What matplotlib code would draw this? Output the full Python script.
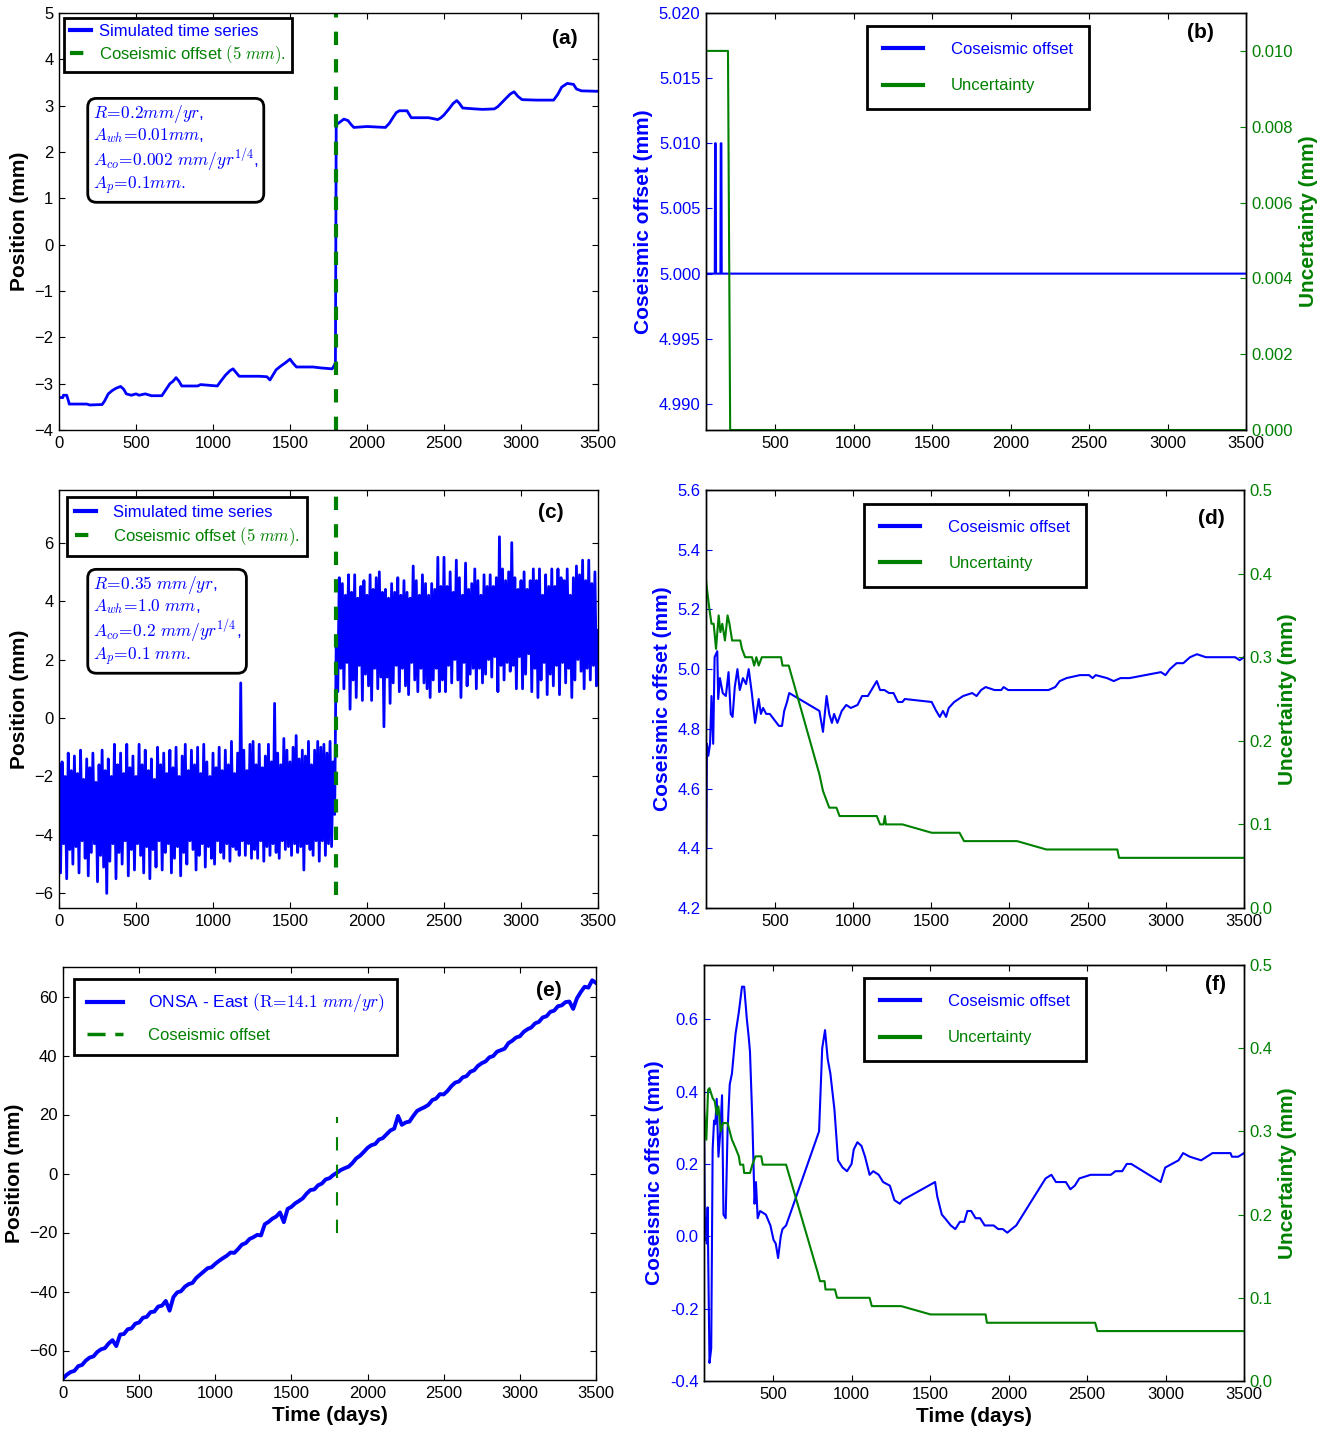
import numpy as np
import matplotlib
matplotlib.use('Agg')
import matplotlib.pyplot as plt
from matplotlib.ticker import FormatStrFormatter

plt.rcParams.update({
    'font.family': ['Liberation Sans', 'DejaVu Sans'],
    'mathtext.fontset': 'cm',
    'font.size': 12,
    'axes.linewidth': 1.0,
    'xtick.direction': 'in', 'ytick.direction': 'in',
    'xtick.major.size': 4, 'ytick.major.size': 4,
    'xtick.top': True, 'ytick.right': True,
    'xtick.major.pad': 4, 'ytick.major.pad': 4,
    'legend.fancybox': False,
    'path.simplify': False,
})

# ---- data -------------------------------------------------------------
offset_day = 1800

# (a) simulated series, low noise
a_days = [0, 25, 28, 50, 64, 66, 180, 200, 280, 295,
          320, 345, 370, 400, 420, 437, 470, 500, 520, 560,
          600, 668, 690, 720, 740, 760, 780, 797, 900, 920,
          1028, 1050, 1080, 1110, 1130, 1150, 1170, 1300, 1350, 1370,
          1388, 1410, 1440, 1470, 1500, 1520, 1542, 1650, 1700, 1773,
          1785, 1795, 1800, 1805, 1830, 1850, 1876, 1900, 1915, 2000,
          2120, 2145, 2170, 2190, 2210, 2260, 2287, 2400, 2460, 2480,
          2500, 2530, 2560, 2583, 2600, 2621, 2700, 2750, 2827, 2850,
          2900, 2930, 2955, 2980, 3007, 3100, 3212, 3240, 3264, 3300,
          3341, 3360, 3392, 3500]
a_pos = [-3.30, -3.30, -3.25, -3.25, -3.40, -3.44, -3.44, -3.46, -3.45, -3.38,
         -3.22, -3.15, -3.10, -3.06, -3.12, -3.22, -3.25, -3.22, -3.25, -3.22,
         -3.26, -3.26, -3.15, -3.00, -2.95, -2.87, -2.95, -3.05, -3.05, -3.02,
         -3.05, -2.95, -2.82, -2.72, -2.68, -2.76, -2.84, -2.84, -2.85, -2.92,
         -2.82, -2.70, -2.62, -2.55, -2.47, -2.56, -2.64, -2.64, -2.66, -2.68,
         -2.62, -2.55, 2.52, 2.60, 2.66, 2.71, 2.68, 2.58, 2.53, 2.55,
         2.53, 2.62, 2.75, 2.85, 2.89, 2.89, 2.74, 2.74, 2.70, 2.74,
         2.80, 2.92, 3.05, 3.11, 3.05, 2.95, 2.93, 2.92, 2.93, 2.98,
         3.15, 3.25, 3.30, 3.20, 3.13, 3.12, 3.12, 3.25, 3.40, 3.48,
         3.46, 3.36, 3.32, 3.31]

# (b) estimates for (a)
b_off_days = [60, 116, 118, 122, 124, 152, 154, 158, 160, 3500]
b_off = [5.0, 5.0, 5.01, 5.01, 5.0, 5.0, 5.01, 5.01, 5.0, 5.0]
b_unc_days = [60, 200, 214, 3500]
b_unc = [0.010, 0.010, 0.0, 0.0]

# (c) simulated series, strong noise (every 10 days)
c_days = np.arange(0, 3501, 10)
c_pre = [
    -1.6, -5.3, -1.5, -4.3, -2.0, -5.5, -1.2, -4.5, -1.8, -5.0,
    -1.3, -4.4, -1.9, -5.3, -1.1, -4.2, -2.1, -4.8, -1.4, -5.4,
    -1.7, -4.6, -1.2, -4.3, -2.2, -5.6, -1.6, -4.7, -1.1, -5.1,
    -1.8, -6.0, -1.4, -4.9, -2.0, -4.3, -0.9, -5.5, -1.6, -4.6,
    -1.2, -5.0, -1.9, -4.2, -0.9, -5.4, -1.7, -4.5, -1.3, -5.2,
    -2.0, -4.3, -0.9, -4.7, -1.6, -5.3, -1.1, -4.4, -1.8, -5.5,
    -1.4, -4.5, -2.1, -5.1, -1.0, -4.2, -1.6, -5.2, -1.2, -4.6,
    -1.9, -4.3, -1.1, -5.3, -1.7, -4.8, -1.0, -4.4, -2.0, -5.4,
    -1.3, -4.6, -0.9, -5.0, -1.8, -4.2, -1.1, -4.5, -1.6, -5.2,
    -1.0, -4.7, -1.9, -4.3, -0.9, -5.1, -1.5, -4.4, -2.0, -4.8,
    -1.2, -5.0, -1.7, -4.2, -1.0, -4.6, -1.8, -4.8, -1.1, -4.3,
    -1.6, -4.9, -0.8, -4.4, -1.9, -4.5, -1.2, -4.7, 1.2, -4.2,
    -1.1, -4.7, -1.8, -4.3, -0.9, -4.8, -0.8, -4.5, -1.6, -4.8,
    -0.9, -4.2, -1.7, -4.9, -1.3, -4.4, -0.9, -4.7, -1.5, -4.3,
    0.5, -4.6, -1.2, -4.8, -1.6, -4.2, -0.7, -4.5, -1.1, -4.4,
    -1.5, -4.7, -1.0, -4.3, -0.6, -4.6, -1.4, -4.4, -1.1, -5.2,
    -1.3, -4.3, -0.8, -4.5, -1.6, -4.7, -1.1, -4.2, -0.8, -4.9,
    -1.0, -4.2, -0.9, -4.7, -1.2, -4.3, -0.8, -4.4, -1.5, -3.3,
]
c_post = [
    2.5, 0.9, 4.8, 1.7, 4.6, 1.0, 4.2, 1.9, 4.9, 0.3,
    4.3, 1.3, 4.9, 0.7, 4.1, 1.8, 4.5, 0.6, 4.7, 1.5,
    4.2, 1.1, 4.9, 0.6, 4.4, 1.7, 4.8, 1.0, 5.0, 1.4,
    4.3, -0.3, 4.4, 1.4, 4.1, 0.5, 4.6, 1.2, 4.3, 1.8,
    4.8, 0.9, 4.2, 1.7, 4.7, 1.1, 4.3, 0.8, 4.1, 1.9,
    5.2, 1.3, 4.7, 0.9, 4.2, 1.7, 4.9, 1.2, 4.6, 1.0,
    4.2, 0.7, 4.6, 1.3, 4.4, 1.7, 5.5, 0.9, 4.5, 1.3,
    5.5, 0.9, 4.5, 1.8, 5.0, 1.2, 4.3, 2.0, 5.4, 1.3,
    4.8, 0.7, 4.2, 1.9, 5.3, 1.1, 4.4, 1.5, 4.6, 1.7,
    5.1, 1.0, 4.7, 1.7, 4.2, 1.2, 4.9, 1.5, 4.5, 2.0,
    4.9, 1.4, 4.5, 2.1, 4.8, 0.9, 6.2, 1.8, 5.1, 1.3,
    4.7, 1.9, 5.0, 1.6, 6.0, 1.8, 4.8, 1.0, 4.4, 2.1,
    4.7, 1.0, 5.0, 1.5, 4.4, 2.2, 4.7, 0.9, 5.1, 1.7,
    4.7, 0.7, 5.1, 1.3, 4.2, 1.9, 4.9, 0.8, 4.5, 1.5,
    5.1, 1.1, 4.5, 1.8, 5.1, 0.8, 4.8, 1.9, 4.7, 1.2,
    5.1, 1.7, 4.2, 0.7, 4.8, 1.3, 5.2, 2.0, 4.9, 1.6,
    5.4, 1.0, 4.7, 1.7, 5.4, 1.3, 4.6, 1.8, 5.0, 1.1,
    3.0,
]
c_pos = c_pre + c_post

# (d) estimates for (c)
d_off_days = [62, 66, 75, 86, 95, 106, 115, 132, 138, 149,
              167, 187, 204, 218, 230, 244, 261, 276, 296, 316,
              333, 353, 374, 397, 411, 425, 445, 468, 497, 526,
              546, 560, 578, 592, 785, 808, 831, 848, 865, 879,
              900, 928, 957, 986, 1029, 1058, 1095, 1129, 1152, 1173,
              1201, 1230, 1259, 1287, 1316, 1331, 1503, 1532, 1555, 1575,
              1595, 1612, 1647, 1704, 1762, 1790, 1819, 1848, 1905, 1948,
              1963, 1992, 2020, 2049, 2250, 2293, 2322, 2365, 2451, 2509,
              2532, 2552, 2624, 2667, 2710, 2768, 2969, 2998, 3026, 3069,
              3112, 3155, 3199, 3256, 3328, 3371, 3443, 3472, 3500]
d_off = [4.40, 4.75, 4.71, 4.75, 4.91, 4.75, 5.04, 5.06, 4.90, 4.97,
         4.92, 4.91, 4.99, 4.85, 4.84, 4.94, 5.00, 4.93, 4.97, 4.95,
         5.00, 4.92, 4.82, 4.90, 4.85, 4.87, 4.85, 4.85, 4.83, 4.81,
         4.81, 4.86, 4.89, 4.92, 4.86, 4.79, 4.91, 4.85, 4.82, 4.85,
         4.82, 4.86, 4.88, 4.87, 4.88, 4.91, 4.91, 4.94, 4.96, 4.93,
         4.93, 4.92, 4.92, 4.89, 4.89, 4.90, 4.89, 4.86, 4.84, 4.86,
         4.84, 4.87, 4.89, 4.91, 4.92, 4.91, 4.93, 4.94, 4.93, 4.93,
         4.94, 4.93, 4.93, 4.93, 4.93, 4.94, 4.96, 4.97, 4.98, 4.98,
         4.97, 4.98, 4.97, 4.96, 4.97, 4.97, 4.99, 4.98, 5.00, 5.02,
         5.02, 5.04, 5.05, 5.04, 5.04, 5.04, 5.04, 5.03, 5.04]
d_unc_days = [60, 80, 95, 109, 124, 141, 152, 164, 181, 198,
              210, 227, 279, 290, 310, 354, 368, 382, 397, 417,
              540, 549, 589, 785, 808, 828, 848, 894, 914, 1152,
              1173, 1195, 1204, 1210, 1316, 1503, 1681, 1710, 2049, 2236,
              2690, 2701, 3500]
d_unc = [0.392, 0.36, 0.34, 0.34, 0.31, 0.35, 0.33, 0.34, 0.32, 0.35,
         0.34, 0.32, 0.32, 0.31, 0.30, 0.30, 0.29, 0.30, 0.29, 0.30,
         0.30, 0.29, 0.29, 0.16, 0.14, 0.13, 0.12, 0.12, 0.11, 0.11,
         0.10, 0.10, 0.11, 0.10, 0.10, 0.09, 0.09, 0.08, 0.08, 0.07,
         0.07, 0.06, 0.06]

# (e) ONSA east component (every 25 days)
e_days = np.arange(0, 3501, 25)
e_pos = [-69.5, -68.2, -67.3, -66.9, -65.3, -64.9, -63.4, -62.4, -62.0, -60.5,
         -59.6, -59.2, -57.6, -56.5, -58.5, -54.6, -54.4, -52.8, -52.5, -50.9,
         -50.5, -48.9, -48.6, -47.0, -46.8, -45.1, -44.8, -43.2, -46.5, -41.9,
         -40.3, -39.9, -38.4, -37.5, -37.1, -35.4, -34.3, -33.2, -32.1, -31.8,
         -30.6, -29.6, -28.7, -27.9, -26.8, -26.9, -25.6, -24.1, -23.6, -22.2,
         -21.6, -20.8, -21.0, -17.2, -16.4, -15.3, -14.6, -13.2, -16.5, -12.0,
         -11.3, -10.1, -9.3, -8.4, -6.8, -5.6, -5.4, -4.0, -3.4, -2.0,
         -1.6, -0.5, 0.3, 1.2, 1.8, 2.3, 3.5, 5.1, 6.0, 7.3,
         8.7, 9.6, 10.0, 11.5, 12.0, 13.3, 14.6, 15.2, 19.5, 16.5,
         17.3, 17.6, 19.5, 21.2, 21.9, 22.5, 23.3, 24.9, 25.4, 26.9,
         26.8, 28.0, 29.6, 30.8, 31.2, 32.6, 33.0, 34.5, 35.0, 36.5,
         37.4, 38.0, 39.4, 39.8, 41.3, 41.8, 42.3, 44.2, 45.0, 46.1,
         46.5, 48.0, 48.9, 49.5, 50.9, 51.4, 52.9, 53.3, 54.8, 55.2,
         56.7, 57.0, 58.1, 58.3, 55.8, 59.4, 61.5, 63.3, 63.0, 65.5,
         64.6]

# (f) estimates for (e)
f_off_days = [60, 66, 72, 78, 83, 95, 106, 115, 124, 132,
              141, 152, 164, 175, 184, 198, 210, 224, 238, 261,
              282, 302, 316, 333, 345, 353, 368, 382, 391, 402,
              417, 454, 483, 503, 517, 532, 549, 560, 583, 793,
              813, 831, 848, 865, 891, 914, 943, 971, 1000, 1014,
              1037, 1063, 1086, 1115, 1138, 1173, 1201, 1244, 1273, 1307,
              1325, 1532, 1546, 1575, 1595, 1632, 1661, 1690, 1718, 1738,
              1762, 1790, 1819, 1848, 1905, 1934, 1963, 1992, 2020, 2049,
              2236, 2273, 2302, 2336, 2365, 2394, 2422, 2451, 2523, 2652,
              2681, 2724, 2753, 2782, 2969, 2998, 3040, 3083, 3112, 3155,
              3227, 3299, 3414, 3423, 3463, 3500]
f_off = [0.35, -0.01, 0.05, -0.02, 0.08, -0.35, -0.31, 0.24, 0.32, 0.31,
         0.38, 0.22, 0.29, 0.39, 0.06, 0.05, 0.29, 0.42, 0.45, 0.56,
         0.62, 0.69, 0.69, 0.60, 0.55, 0.51, 0.32, 0.09, 0.15, 0.05,
         0.07, 0.06, 0.03, -0.01, -0.02, -0.06, 0.00, 0.02, 0.03, 0.29,
         0.52, 0.57, 0.49, 0.45, 0.35, 0.21, 0.19, 0.18, 0.20, 0.24,
         0.26, 0.25, 0.22, 0.17, 0.18, 0.17, 0.15, 0.14, 0.10, 0.09,
         0.10, 0.15, 0.11, 0.06, 0.05, 0.03, 0.02, 0.04, 0.04, 0.07,
         0.07, 0.05, 0.05, 0.03, 0.03, 0.02, 0.02, 0.01, 0.02, 0.03,
         0.16, 0.17, 0.15, 0.15, 0.15, 0.13, 0.14, 0.16, 0.17, 0.17,
         0.18, 0.18, 0.20, 0.20, 0.15, 0.19, 0.20, 0.21, 0.23, 0.22,
         0.21, 0.23, 0.23, 0.22, 0.22, 0.23]
f_unc_days = [60, 75, 86, 95, 115, 129, 141, 152, 167, 181,
              210, 224, 238, 261, 282, 290, 310, 316, 353, 368,
              388, 425, 434, 583, 785, 799, 828, 834, 894, 908,
              1115, 1129, 1316, 1503, 1854, 1862, 2552, 2566, 3500]
f_unc = [0.326, 0.29, 0.35, 0.352, 0.34, 0.336, 0.32, 0.33, 0.30, 0.31,
         0.31, 0.30, 0.29, 0.28, 0.27, 0.26, 0.26, 0.25, 0.25, 0.26,
         0.27, 0.27, 0.26, 0.26, 0.13, 0.12, 0.12, 0.11, 0.11, 0.10,
         0.10, 0.09, 0.09, 0.08, 0.08, 0.07, 0.07, 0.06, 0.06]

a_params = [r'$R\!=\!0.2mm/yr$,', r'$A_{wh}\!=\!0.01mm$,',
            r'$A_{co}\!=\!0.002\ mm/yr^{1/4}$,', r'$A_p\!=\!0.1mm.$']
c_params = [r'$R\!=\!0.35\ mm/yr$,', r'$A_{wh}\!=\!1.0\ mm$,',
            r'$A_{co}\!=\!0.2\ mm/yr^{1/4}$,', r'$A_p\!=\!0.1\ mm.$']

# ---- figure -----------------------------------------------------------
W, H = 1328, 1433
fig = plt.figure(figsize=(W / 100, H / 100), dpi=100)


def box(l, t, r, b):
    return [l / W, 1 - b / H, (r - l) / W, (b - t) / H]


def style_legend(leg, colors, lw=None):
    leg.get_frame().set_edgecolor('k')
    leg.get_frame().set_linewidth(2)
    for t, c in zip(leg.get_texts(), colors):
        t.set_color(c)
    if lw:
        for ln in leg.get_lines():
            ln.set_linewidth(lw)


def letter(ax, x, y, s):
    ax.text(x, y, s, transform=ax.transAxes, fontsize=15, fontweight='bold',
            ha='center', va='center')


def param_box(ax, x, y, lines):
    ax.text(x, y, '\n'.join(lines), transform=ax.transAxes,
            ha='left', va='top', color='b', fontsize=12.5, linespacing=1.08,
            bbox=dict(boxstyle='round,pad=0.3,rounding_size=0.5', fc='white',
                      ec='k', lw=2))


def estimate_panel(ax, od, ov, ud, uv, ylim_l, yt_l, fmt_l, ylim_r, yt_r, fmt_r,
                   leg_xy, let_xy, let):
    l1, = ax.plot(od, ov, color='b', lw=1.5, label='Coseismic offset')
    ax2 = ax.twinx()
    l2, = ax2.plot(ud, uv, color='g', lw=1.5, label='Uncertainty')
    ax.set_xlim(60, 3500)
    ax.set_xticks(range(500, 3501, 500))
    ax.set_ylim(*ylim_l)
    ax.set_yticks(yt_l)
    ax.yaxis.set_major_formatter(FormatStrFormatter(fmt_l))
    ax2.set_ylim(*ylim_r)
    ax2.set_yticks(yt_r)
    ax2.yaxis.set_major_formatter(FormatStrFormatter(fmt_r))
    ax.tick_params(axis='y', colors='b', right=False)
    ax2.tick_params(axis='y', colors='g', left=False, right=True, direction='in')
    ax.set_ylabel('Coseismic offset (mm)', color='b', fontsize=15, fontweight='bold')
    ax2.set_ylabel('Uncertainty (mm)', color='g', fontsize=15, fontweight='bold')
    leg = ax2.legend([l1, l2], ['Coseismic offset', 'Uncertainty'],
                     loc='upper left', bbox_to_anchor=leg_xy, borderaxespad=0,
                     framealpha=1, fontsize=12, handlelength=2.4,
                     handletextpad=1.7, labelspacing=1.3, borderpad=0.95)
    style_legend(leg, ['b', 'g'], lw=3)
    letter(ax2, let_xy[0], let_xy[1], let)
    return ax2


# (a)
ax_a = fig.add_axes(box(59, 13, 598, 430))
ax_a.plot(a_days, a_pos, color='b', lw=2.0, label='Simulated time series')
ax_a.axvline(offset_day, color='g', lw=3, dashes=(3.2, 3.4),
             label=r'Coseismic offset $(5\ mm)$.')
ax_a.set_xlim(0, 3500)
ax_a.set_ylim(-4, 5)
ax_a.set_xticks(range(0, 3501, 500))
ax_a.set_yticks(range(-4, 6))
ax_a.set_ylabel('Position (mm)', fontsize=15, fontweight='bold')
leg = ax_a.legend(loc='upper left', bbox_to_anchor=(0.009, 0.988), borderaxespad=0,
                  framealpha=1, fontsize=12, handlelength=1.3, handletextpad=0.45,
                  labelspacing=0.25, borderpad=0.35)
style_legend(leg, ['b', 'g'], lw=3)
param_box(ax_a, 0.063, 0.785, a_params)
letter(ax_a, 0.939, 0.94, '(a)')

# (b)
ax_b = fig.add_axes(box(706, 13, 1246, 430))
estimate_panel(ax_b, b_off_days, b_off, b_unc_days, b_unc,
               (4.988, 5.020), np.arange(4.990, 5.0201, 0.005), '%.3f',
               (0, 0.011), np.arange(0, 0.0101, 0.002), '%.3f',
               (0.298, 0.969), (0.915, 0.954), '(b)')

# (c)
ax_c = fig.add_axes(box(59, 490, 598, 908))
ax_c.plot(c_days, c_pos, color='b', lw=2.0, label='Simulated time series')
ax_c.plot([offset_day, offset_day], [-6.05, 7.6], color='g', lw=3,
          dashes=(3.2, 3.4), label=r'Coseismic offset $(5\ mm)$.')
ax_c.set_xlim(0, 3500)
ax_c.set_ylim(-6.5, 7.8)
ax_c.set_xticks(range(0, 3501, 500))
ax_c.set_yticks(range(-6, 7, 2))
ax_c.set_ylabel('Position (mm)', fontsize=15, fontweight='bold')
leg = ax_c.legend(loc='upper left', bbox_to_anchor=(0.015, 0.983), borderaxespad=0,
                  framealpha=1, fontsize=12, handlelength=1.3, handletextpad=1.0,
                  labelspacing=0.35, borderpad=0.45)
style_legend(leg, ['b', 'g'], lw=3)
param_box(ax_c, 0.063, 0.80, c_params)
letter(ax_c, 0.913, 0.945, '(c)')

# (d)
ax_d = fig.add_axes(box(706, 490, 1244, 908))
estimate_panel(ax_d, d_off_days, d_off, d_unc_days, d_unc,
               (4.2, 5.6), np.arange(4.2, 5.61, 0.2), '%.1f',
               (0, 0.5), np.arange(0, 0.51, 0.1), '%.1f',
               (0.294, 0.967), (0.94, 0.933), '(d)')

# (e)
ax_e = fig.add_axes(box(63, 967, 596, 1380))
ax_e.plot(e_days, e_pos, color='b', lw=2.8,
          label=r'ONSA - East $(\mathrm{R}\!=\!14.1\ mm/yr)$')
ax_e.plot([offset_day, offset_day], [-20, 19], color='g', lw=1.5,
          dashes=(6.4, 6.8), label='Coseismic offset')
ax_e.set_xlim(0, 3500)
ax_e.set_ylim(-70, 70)
ax_e.set_xticks(range(0, 3501, 500))
ax_e.set_yticks(range(-60, 61, 20))
ax_e.set_ylabel('Position (mm)', fontsize=15, fontweight='bold')
ax_e.set_xlabel('Time (days)', fontsize=15, fontweight='bold')
leg = ax_e.legend(loc='upper left', bbox_to_anchor=(0.021, 0.971), borderaxespad=0,
                  framealpha=1, fontsize=12, handlelength=2.15, handletextpad=1.5,
                  labelspacing=0.8, borderpad=0.75)
style_legend(leg, ['b', 'g'])
leg.get_texts()[0].set_fontsize(12.5)
leg.get_lines()[0].set_linewidth(3)
leg.get_lines()[1].set_linewidth(2.5)
leg.get_lines()[1].set_dashes((5.2, 2.8))
letter(ax_e, 0.912, 0.944, '(e)')

# (f)
ax_f = fig.add_axes(box(704, 965, 1244, 1381))
estimate_panel(ax_f, f_off_days, f_off, f_unc_days, f_unc,
               (-0.4, 0.75), np.arange(-0.4, 0.61, 0.2), '%.1f',
               (0, 0.5), np.arange(0, 0.51, 0.1), '%.1f',
               (0.296, 0.969), (0.948, 0.952), '(f)')
ax_f.set_xlabel('Time (days)', fontsize=15, fontweight='bold')

fig.savefig('out.png', dpi=100)
